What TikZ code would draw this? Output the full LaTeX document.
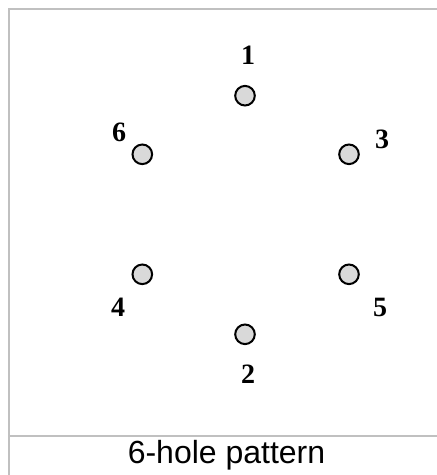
\documentclass[tikz,border=0pt]{standalone}
\usepackage{fontspec}
\setmainfont{Liberation Serif}
\newfontfamily\capfont{Liberation Sans}
\definecolor{framegray}{HTML}{C0C0C0}
\definecolor{holefill}{HTML}{D9D9D9}
\begin{document}
\begin{tikzpicture}[x=1pt,y=-1pt,
  hole/.style={circle,draw=black,fill=holefill,line width=2pt,minimum size=19.6pt,inner sep=0pt},
  num/.style={anchor=base,inner sep=0pt,font=\fontsize{28}{32}\selectfont\bfseries},
  framestyle/.style={draw=framegray,line width=2pt}]
\useasboundingbox (0,0) rectangle (437,475);
\fill[white] (0,0) rectangle (437,475);
% frame
\draw[framestyle] (9,476) -- (9,9) -- (438,9);
\draw[framestyle] (9,436) -- (438,436);
% holes
\node[hole] (h1) at (245,95.7) {};
\node[hole] (h6) at (142.3,154.3) {};
\node[hole] (h3) at (349,154.3) {};
\node[hole] (h4) at (142.3,274.3) {};
\node[hole] (h5) at (349,274.3) {};
\node[hole] (h2) at (245,334.3) {};
% labels
\node[num] (l1) at (248,64) {1};
\node[num] (l6) at (119,141.7) {6};
\node[num] (l3) at (382,148.3) {3};
\node[num] (l4) at (118,316.7) {4};
\node[num] (l5) at (380,316.7) {5};
\node[num] (l2) at (248,383.3) {2};
% caption
\node[anchor=base,inner sep=0pt,font=\capfont\fontsize{32}{38}\selectfont] (cap) at (226.5,463) {6-hole pattern};
\end{tikzpicture}
\end{document}
